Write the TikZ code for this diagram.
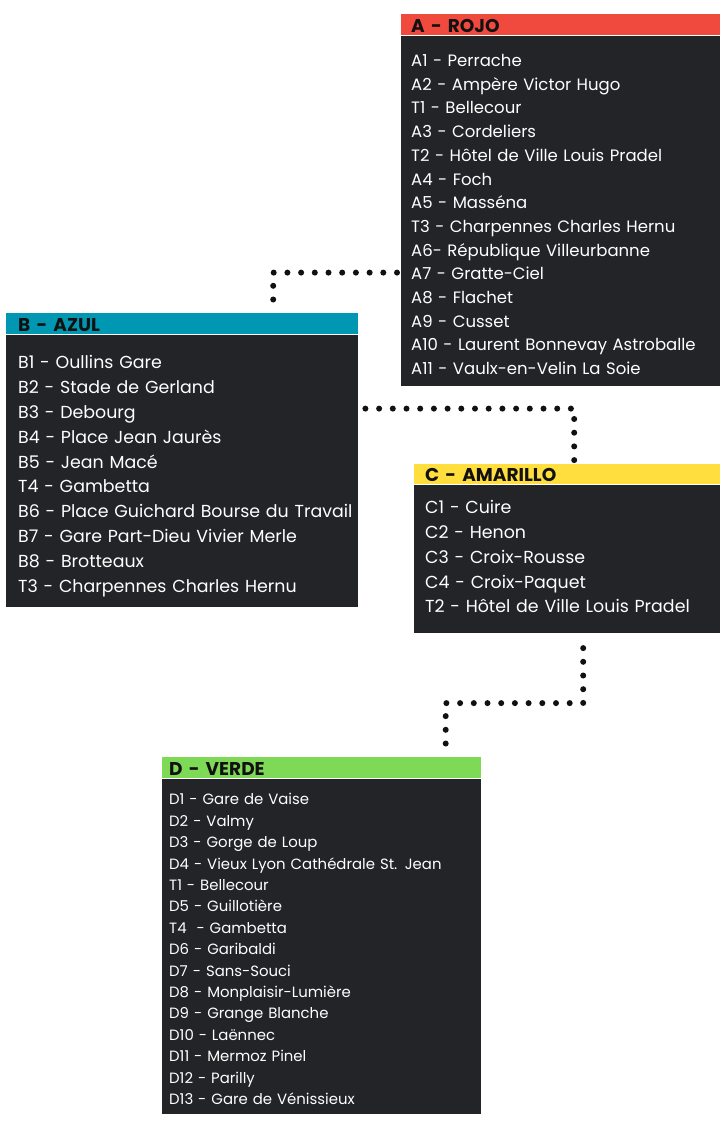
\documentclass[tikz,border=0pt]{standalone}
\usepackage{fontspec}
\setmainfont{Poppins}
\usetikzlibrary{positioning}
\usetikzlibrary{backgrounds}

\definecolor{listbg}{HTML}{232428}
\definecolor{headink}{HTML}{111111}
\definecolor{dotink}{HTML}{111111}
\definecolor{rojoc}{HTML}{F0493D}
\definecolor{azulc}{HTML}{0097B2}
\definecolor{amarilloc}{HTML}{FFDE3D}
\definecolor{verdec}{HTML}{7ED957}

\newcommand{\padtop}[1]{\rule{0pt}{#1}}
\newcommand{\padbot}[1]{\rule[-#1]{0pt}{#1}\par}

\begin{document}
\begin{tikzpicture}[x=1pt,y=1pt,
			linehead/.style={anchor=north west, inner xsep=0pt, inner ysep=0pt, align=left, text depth=3pt, text=headink, font=\fontsize{18.5}{20}\selectfont\bfseries},
			linelist/.style={inner xsep=0pt, inner ysep=0pt, align=left, fill=listbg, text=white},
			linkdots/.style={draw=dotink, line width=6pt, line cap=round, dash pattern=on 0pt off 13.7pt}]
			% A
			\node[linehead, fill=rojoc, text width=319pt, text height=18pt] (rojo) at (401,-14) {\leftskip=10pt A - ROJO\par};
			\node[linelist, below=0pt of rojo, text width=319pt, font=\fontsize{16.5}{23.7}\selectfont] (rojoList) {\leftskip=10pt
				\padtop{31pt}A1 - Perrache\\ A2 - Ampère Victor Hugo\\ T1 - Bellecour\\ A3 - Cordeliers\\
				T2 - Hôtel de Ville Louis Pradel\\ A4 - Foch\\ A5 - Masséna\\ T3 - Charpennes Charles Hernu\\
				A6- République Villeurbanne\\ A7 - Gratte-Ciel\\ A8 - Flachet\\ A9 - Cusset\\
				A10 - Laurent Bonnevay Astroballe\\ A11 - Vaulx-en-Velin La Soie\padbot{10.9pt}};
			% B
			\node[linehead, fill=azulc, text width=352pt, text height=18pt] (azul) at (6,-313) {\leftskip=12pt B - AZUL\par};
			\node[linelist, below=0pt of azul, text width=352pt, font=\fontsize{17.4}{24.8}\selectfont] (azulList) {\leftskip=12pt
				\padtop{34.3pt}B1 - Oullins Gare\\ B2 - Stade de Gerland\\ B3 - Debourg\\ B4 - Place Jean Jaurès\\
				B5 - Jean Macé\\ T4 - Gambetta\\ B6 - Place Guichard Bourse du Travail\\
				B7 - Gare Part-Dieu Vivier Merle\\ B8 - Brotteaux\\ T3 - Charpennes Charles Hernu\padbot{14.5pt}};
			% C
			\node[linehead, fill=amarilloc, text width=306pt, text height=17pt] (amarillo) at (414,-464) {\leftskip=11pt C - AMARILLO\par};
			\node[linelist, below=0pt of amarillo, text width=306pt, font=\fontsize{17.4}{24.75}\selectfont] (amarilloList) {\leftskip=11pt
				\padtop{29.3pt}C1 - Cuire\\ C2 - Henon\\ C3 - Croix-Rousse\\ C4 - Croix-Paquet\\
				T2 - Hôtel de Ville Louis Pradel\padbot{20pt}};
			% D
			\node[linehead, fill=verdec, text width=319pt, text height=18pt] (verde) at (162,-757) {\leftskip=7pt D - VERDE\par};
			\node[linelist, below=0pt of verde, text width=319pt, font=\fontsize{14.9}{21.4}\selectfont] (verdeList) {\leftskip=7pt
				\padtop{26.3pt}D1 - Gare de Vaise\\ D2 - Valmy\\ D3 - Gorge de Loup\\ D4 - Vieux Lyon Cathédrale St. Jean\\
				T1 - Bellecour\\ D5 - Guillotière\\ T4 \ - Gambetta\\ D6 - Garibaldi\\ D7 - Sans-Souci\\
				D8 - Monplaisir-Lumière\\ D9 - Grange Blanche\\ D10 - Laënnec\\ D11 - Mermoz Pinel\\
				D12 - Parilly\\ D13 - Gare de Vénissieux\padbot{9pt}};
			\begin{scope}[on background layer]
				\path[fill=white] (0,0) rectangle (720,-1132);
				\draw[linkdots] ([xshift=-4pt,yshift=-62pt]rojoList.west) -| ([xshift=91pt]azul.north);
				\draw[linkdots] ([xshift=7pt,yshift=62pt]azulList.east) -| ([xshift=7pt]amarillo.north);
				\draw[linkdots] ([xshift=16pt,yshift=-15pt]amarilloList.south) -- ++(0,-55) -| ([xshift=124pt]verde.north);
			\end{scope}
	\end{tikzpicture}
\end{document}
